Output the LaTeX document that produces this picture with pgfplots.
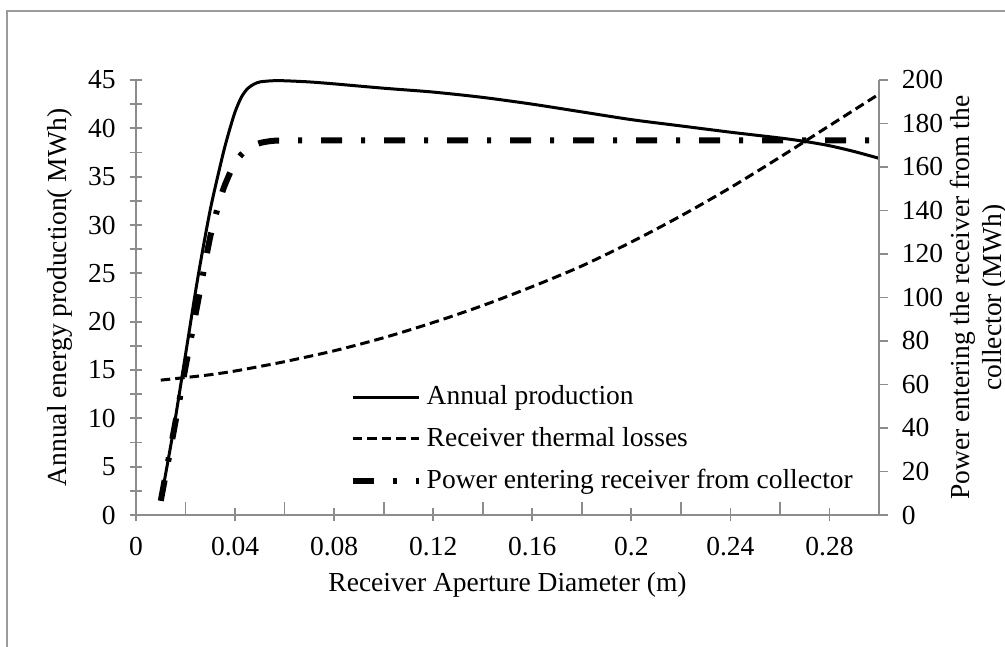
\documentclass[border=0pt]{standalone}
\usepackage{pgfplots}
\pgfplotsset{compat=1.18}
\usepackage{fontspec}
\setmainfont{Liberation Serif}
\definecolor{axgray}{RGB}{140,140,140}
\definecolor{framegray}{RGB}{155,155,155}

\pgfplotstableread{
x y
0.010 1.5
0.015 8.6
0.020 16.6
0.025 24.6
0.030 31.6
0.035 37.2
0.0375 39.6
0.040 41.7
0.0425 43.2
0.045 44.1
0.0475 44.55
0.050 44.8
0.055 44.92
0.060 44.92
0.070 44.8
0.080 44.6
0.100 44.15
0.120 43.75
0.140 43.2
0.160 42.5
0.180 41.7
0.200 40.9
0.220 40.25
0.240 39.6
0.260 39.0
0.270 38.65
0.280 38.2
0.290 37.6
0.300 36.9
}\production

\pgfplotstableread{
x y
0.010 62.0
0.020 63.2
0.030 64.5
0.040 66.2
0.050 68.3
0.060 70.5
0.080 75.5
0.100 81.5
0.120 88.5
0.140 96.3
0.160 105.0
0.180 114.5
0.200 125.5
0.220 137.5
0.240 150.5
0.260 164.5
0.280 179.0
0.300 193.5
}\losses

\pgfplotstableread{
x y
0.010 6.5
0.015 37
0.020 68
0.025 98
0.030 128
0.035 149
0.040 162
0.045 168.5
0.050 171
0.055 172
0.060 172.2
0.080 172.2
0.120 172.2
0.200 172.2
0.300 172.2
}\power

\tikzset{
  prodstyle/.style={black, line width=1.2pt},
  lossstyle/.style={black, line width=1.2pt, dash pattern=on 3.8pt off 2pt},
  powstyle/.style={black, line width=2.4pt, dash pattern=on 8.4pt off 7.6pt on 1.6pt off 7.6pt}
}

\pgfplotsset{
  myaxis/.style={
    scale only axis, width=297.2pt, height=174pt,
    at={(54.4pt,52.8pt)}, anchor=south west,
    xmin=0, xmax=0.3,
    font=\fontsize{11}{13}\selectfont,
    tick label style={font=\fontsize{11}{13}\selectfont},
    /pgf/number format/assume math mode=true,
    axis line style={draw=axgray, line width=0.7pt},
    tick style={draw=axgray, line width=0.7pt},
  }
}

\begin{document}
\begin{tikzpicture}
\useasboundingbox (0,0) rectangle (402pt,258.8pt);
\begin{scope}
\clip (0,0) rectangle (402pt,258.8pt);
\draw[framegray, line width=0.8pt] (2.8pt,-20pt) rectangle (430pt,254.4pt);

\begin{axis}[myaxis,
  ymin=0, ymax=45,
  axis x line*=bottom, axis y line*=left,
  xtick={0,0.04,0.08,0.12,0.16,0.2,0.24,0.28},
  xticklabels={0,0.04,0.08,0.12,0.16,0.2,0.24,0.28},
  minor xtick={0.02,0.06,0.1,0.14,0.18,0.22,0.26,0.3},
  ytick={0,5,...,45},
  minor ytick={2.5,7.5,...,42.5},
  tick align=center, major tick length=5.2pt, minor tick length=5.2pt,
  minor x tick style={yshift=2.6pt},
  xticklabel style={yshift=-2.8pt},
  yticklabel style={xshift=-2pt},
  every axis x label/.style={at={(axis description cs:0.5,-0.161)}, anchor=center},
  every axis y label/.style={at={(axis description cs:-0.103,0.5)}, anchor=center, rotate=90},
  xlabel={Receiver Aperture Diameter (m)},
  ylabel={Annual energy production( MWh)},
  legend style={draw=none, fill=none, at={(0.287,0.31)}, anchor=north west,
    inner sep=0pt, row sep=3.6pt, font=\fontsize{11}{13}\selectfont},
  legend cell align=left,
  legend image code/.code={\draw[#1] (0pt,0pt) -- (26.4pt,0pt);},
]
\addplot[prodstyle, smooth, tension=0.45] table {\production};
\addlegendentry{Annual production}
\addlegendimage{lossstyle}
\addlegendentry{Receiver thermal losses}
\addlegendimage{powstyle}
\addlegendentry{Power entering receiver from collector}
\end{axis}

\begin{axis}[myaxis,
  ymin=0, ymax=200,
  axis y line*=right, axis x line=none,
  ytick={0,20,...,200},
  tick align=outside, major tick length=3.6pt,
  yticklabel style={xshift=2pt},
  every axis y label/.style={at={(axis description cs:1.1345,0.5)}, anchor=center, rotate=90},
  ylabel={Power entering the receiver from the\\collector (MWh)},
  ylabel style={align=center},
]
\addplot[lossstyle, smooth, tension=0.5] table {\losses};
\addplot[powstyle, smooth, tension=0.4] table {\power};
\end{axis}
\end{scope}
\end{tikzpicture}
\end{document}
